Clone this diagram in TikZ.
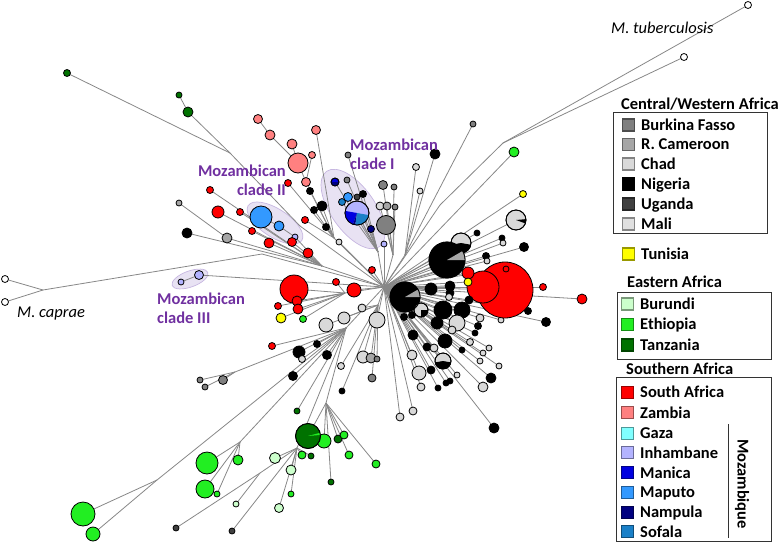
\documentclass[tikz,border=0pt]{standalone}
\usepackage{fontspec}
\setmainfont{Carlito}
\pgfdeclarelayer{hulls}
\pgfdeclarelayer{edges}
\pgfsetlayers{hulls,edges,main}
\definecolor{bf}{HTML}{808080}
\definecolor{cam}{HTML}{A6A6A6}
\definecolor{chad}{HTML}{D9D9D9}
\definecolor{nig}{HTML}{000000}
\definecolor{uga}{HTML}{404040}
\definecolor{mali}{HTML}{E0E0E0}
\definecolor{tun}{HTML}{FFFF00}
\definecolor{bur}{HTML}{CCFFCC}
\definecolor{eth}{HTML}{22EE22}
\definecolor{tan}{HTML}{007200}
\definecolor{saf}{HTML}{FF0000}
\definecolor{zam}{HTML}{FF8080}
\definecolor{gaza}{HTML}{80FFFF}
\definecolor{inh}{HTML}{B3B3FF}
\definecolor{man}{HTML}{0000E0}
\definecolor{map}{HTML}{3399FF}
\definecolor{nam}{HTML}{000080}
\definecolor{sof}{HTML}{1A80C8}
\definecolor{clade}{HTML}{7030A0}
\definecolor{hull}{HTML}{E8E2F3}
\definecolor{hullline}{HTML}{C6B6E0}
\newcommand\pwedge[5]{\fill[#5] (#1.center) -- ++(#3:#2pt) arc[start angle=#3, end angle=#4, radius=#2pt] -- cycle;}
\newcommand\pring[2]{\draw[line width=0.8pt] (#1.center) circle[radius=#2pt];}
\tikzset{
 leaf/.style={circle,draw=black,line width=0.8pt,inner sep=0pt,outer sep=0pt},
 edge/.style={draw=black!47,line width=0.8pt},
 hullshape/.style={fill=hull,draw=hullline,line width=0.7pt},
 cladelab/.style={text=clade,font=\bfseries\fontsize{16.5}{19}\selectfont,inner sep=0pt},
 species/.style={font=\itshape\fontsize{16.5}{19}\selectfont,inner sep=0pt,anchor=base west},
 legtext/.style={font=\bfseries\fontsize{16.5}{19}\selectfont,inner sep=0pt,anchor=base west},
 swatch/.style={rectangle,minimum size=12pt,inner sep=0pt,line width=1.3pt},
 legbox/.style={draw=black!80,line width=1pt},
}
\def\nodelist{%
tb1/748/5/3.5/white/hM,
tb2/684/57/3.5/white/hM,
cp1/5/279/3.5/white/hCap,
cp2/5/302/3.5/white/hCap,
m3a/199/275/4.5/inh/R,
m3b/181/282/3/inh/m3a,
t1/67/73/3.5/tan/hT,
t2/188/112/5/tan/hT,
t3/179/95/3/tan/t2,
z1/258/119/4.5/zam/z2,
z2/270/135/5/zam/z4,
z3/292/144/5/zam/z4,
z4/298/163/10/zam/z6,
z5/312/155/3.5/zam/z6,
z6/306/182/4.5/zam/hZ,
z7/316/130/4.5/zam/hZ,
c2a/261/217/11/map/c2b,
c2b/279/226/5/map/c2c,
c2c/295/237/3/inh/hC2,
r1/292/242/4.5/saf/hC2,
r2/252/231/3.5/saf/hC2,
r3/269/243/5/saf/hC2,
r4/308/253/5/saf/hC2,
r5/218/212/6/saf/hC2,
r6/240/212/3.5/saf/hC2,
r7/210/190/3.5/saf/hC2,
g1/179/203/3/cam/g2,
g2/227/238/5/cam/hC2,
b1/187/233/5/nig/hC2,
r8/288/183/3.5/saf/hZ,
b2/310/191/3.5/nig/hZ,
b3/314/210/3.5/nig/hZ,
b4/322/206/5/nig/hZ,
b5/326/227/3.5/nig/hZ,
r9/305/220/3.5/saf/hZ,
c1/339/242/3/chad/R,
r10/372/270/3.5/saf/R,
i2/347/180/3/bf/hI,
i3/348/197/4.5/map/hI,
i4/342/202/3.5/sof/hI,
i5/357/197/3/uga/hI,
i6/363/194/3.5/nig/hI,
i7/371/229/3.5/nam/hI,
i8/384/244/3/inh/R,
i9/348/155/3/bf/hI,
k1/383/185/4.5/bf/hG,
k2/394/187/3/bf/hG,
k3/380/206/4/chad/hG,
k4/387/206/4/cam/hG,
k5/395/207/3/bf/hG,
k6/386/225/9.5/bf/hG,
u1/416/167/3.5/chad/hN,
u2/420/191/3/chad/hN,
u3/435/154/5/nig/hN,
u4/473/124/3/bf/hN,
u5/514/152/5/eth/R,
u6/523/194/3.5/tun/R,
q9/477/233/3/nig/R,
q10/502/238/3/nig/R,
q11/503/243/3/chad/R,
q12/524/247/4.5/nig/R,
q15/486/256/3.5/nig/R,
q16/487/261/3/chad/R,
q22/543/287/3.5/saf/R,
q23/582/299/5/saf/R,
q24/528/311/3.5/nig/R,
q25/546/322/4.5/nig/R,
q26/501/320/3/chad/R,
q19/505/290/28/saf/R,
q20/483/287/16/saf/R,
q17/468/273/6/saf/R,
q18/468/282/4/tun/R,
q21/506/269/3/saf/R,
q28/431/289/6/nig/R,
q29/450/286/5/nig/R,
q30/450/293/4/nig/R,
q31/449/297/3.5/chad/R,
q32/469/300/4/nig/R,
q34/443/310/9/nig/R,
q35/462/310/8/nig/R,
q36/404/317/3.5/nig/R,
q37/412/315/3.5/nig/R,
q38/437/323/6/nig/R,
q39/457/323/8/chad/R,
q40/480/318/4/chad/R,
q41/478/326/3.5/nig/R,
q42/377/320/8/chad/R,
q43/452/330/4/chad/R,
q44/475/333/3/nig/R,
q45/413/335/5/nig/R,
q46/445/341/7/nig/R,
q47/470/342/3.5/chad/R,
q48/489/348/3/chad/R,
q49/427/347/4/nig/R,
q50/434/348/4/chad/R,
q51/462/350/3/nig/R,
q52/483/353/3/chad/R,
q53/480/361/3/chad/R,
q54/499/366/3/chad/R,
q55/412/355/5/chad/R,
q57/457/375/3/chad/R,
q58/419/373/7/chad/R,
q59/431/370/4/nig/R,
q60/491/378/5/nig/R,
q61/483/387/5/chad/R,
q62/421/387/4/chad/R,
q63/438/388/3/nig/R,
q64/446/383/3/nig/R,
q65/450/381/3/nig/R,
q69/413/411/4/chad/R,
q70/400/417/4/chad/R,
q71/494/428/5/nig/R,
l1/294/289/14/saf/hL,
l2/297/301/5/saf/hL,
l3/298/309/5/saf/hL,
l4/278/306/3.5/saf/hL,
l5/281/318/5/tun/hL,
l6/303/319/3.5/eth/hL,
l7/336/282/3.5/saf/hL,
l8/354/290/7/saf/R,
l9/326/325/7/chad/hD,
l10/344/318/6/chad/hD,
l11/362/308/4/chad/hD,
d1/272/346/3.5/saf/hB,
d2/299/352/6/nig/hB,
d3/302/359/3.5/chad/hB,
d4/317/344/3.5/nig/hB,
d5/327/355/4.5/nig/hB,
d6/293/376/4.5/nig/hB,
g3/200/380/3/bf/hGg,
g4/205/387/3/bf/hGg,
g5/223/380/4.5/bf/hGg,
d7/363/357/6/chad/hD,
d8/371/358/5/cam/hD,
d9/377/359/3/bf/hD,
d10/341/366/3.5/chad/hD,
d11/372/378/4/bf/hD,
d12/342/391/3/nig/hD,
e1/297/411/3/tan/hB,
e3/324/441/7/eth/hTz,
e4/338/439/4/tan/hTz,
e5/344/435/4/eth/hTz,
e6/349/455/4/eth/hTz,
e7/376/464/4/eth/hTz,
e8/331/482/3/tan/hTz,
e9/302/455/4/eth/hK,
e10/311/456/3/tan/hK,
e11/275/458/5.5/bur/hK,
e12/291/470/5/bur/hK,
e13/291/494/3/eth/hK,
e14/279/508/4.5/bur/hK,
e15/236/504/3/bur/hK2,
e16/232/531/3/uga/hK,
e17/176/528/3/uga/hK2,
e18/207/463/11/eth/hE,
e19/238/460/5/eth/hE,
e20/205/489/9/eth/hE,
e21/217/494/3/eth/hE,
e22/83/514/12/eth/hF,
e23/93/534/7/eth/hF}
\def\pielist{%
p1/357/213/12/inh/hI,
i1/335/182/4/man/hI,
q8/516/220/10/chad/R,
q13/461/243/10/chad/R,
q14/447/260/18/nig/R,
q27/405/297/15/nig/R,
q33/421/310/7/chad/R,
q56/443/361/8/chad/R,
e2/308/436/12.5/tan/hTz}
\begin{document}
\begin{tikzpicture}[x=1pt,y=-1pt]
\useasboundingbox (0,0) rectangle (779,544);
% hubs
\coordinate (R) at (384,287);
\coordinate (hM) at (503,143);
\coordinate (hM2) at (440,205);
\coordinate (hCap) at (43,290);
\coordinate (hC3) at (262,254);
\coordinate (hT) at (230,153);
\coordinate (hT2) at (300,226);
\coordinate (hZ) at (334,238);
\coordinate (hC2) at (322,266);
\coordinate (hI) at (378,252);
\coordinate (hG) at (393,255);
\coordinate (hN) at (405,255);
\coordinate (hL) at (345,293);
\coordinate (hD) at (378,305);
\coordinate (hB) at (346,328);
\coordinate (hGg) at (235,372);
\coordinate (hE) at (240,442);
\coordinate (hF) at (157,480);
\coordinate (hK) at (297,448);
\coordinate (hK2) at (260,473);
\coordinate (hTz) at (326,403);
% hulls
\begin{pgfonlayer}{hulls}
\draw[hullshape,shift={(353,209)},rotate=-55] (0,0) ellipse[x radius=46pt,y radius=22pt];
\draw[hullshape,shift={(275,223)},rotate=-33] (0,0) ellipse[x radius=32pt,y radius=14pt];
\draw[hullshape,shift={(190,279)},rotate=20] (0,0) ellipse[x radius=19pt,y radius=8pt];
\end{pgfonlayer}
% leaves
\foreach \nm/\xx/\yy/\rr/\cc/\pp in \nodelist {
  \node[leaf,fill=\cc,minimum size={2*\rr*1pt}] (\nm) at (\xx,\yy) {};
}
% pie nodes
\foreach \nm/\xx/\yy/\rr/\cc/\pp in \pielist {
  \node[leaf,fill=\cc,minimum size={2*\rr*1pt}] (\nm) at (\xx,\yy) {};
}
\pwedge{p1}{12}{170}{250}{man}
\pwedge{p1}{12}{250}{262}{nam}
\pwedge{p1}{12}{262}{350}{sof}
\pring{p1}{12}
\pwedge{i1}{4}{180}{360}{nam}
\pring{i1}{4}
\pwedge{q8}{10}{-20}{5}{nig}
\pring{q8}{10}
\pwedge{q13}{10}{190}{350}{nig}
\pring{q13}{10}
\pwedge{q14}{18}{0}{30}{cam}
\pring{q14}{18}
\pwedge{q27}{15}{0}{30}{cam}
\pring{q27}{15}
\pwedge{q33}{7}{270}{360}{nig}
\pring{q33}{7}
\pwedge{q56}{8}{190}{350}{nig}
\pring{q56}{8}
\pwedge{e2}{12.5}{5}{15}{eth}
\pring{e2}{12.5}
% edges
\begin{pgfonlayer}{edges}
\foreach \aa/\bb in {hM/hM2,hM2/R,hCap/hC3,hC3/R,hT/hT2,hT2/R,hZ/R,hC2/R,hI/R,hG/R,hN/R,hL/R,hD/R,hB/R,hGg/hB,hE/hB,hF/hB,hK/hB,hK2/hK,hTz/hB}
  {\draw[edge] (\aa) -- (\bb);}
\foreach \nm/\xx/\yy/\rr/\cc/\pp in \nodelist {\draw[edge] (\pp) -- (\nm);}
\foreach \nm/\xx/\yy/\rr/\cc/\pp in \pielist {\draw[edge] (\pp) -- (\nm);}
\end{pgfonlayer}
% labels
\node[cladelab,anchor=base west] (lab1a) at (350,150) {Mozambican};
\node[cladelab,anchor=base west] (lab1b) at (350,169) {clade I};
\node[cladelab,anchor=base east] (lab2a) at (286,176) {Mozambican};
\node[cladelab,anchor=base east] (lab2b) at (286,195) {clade II};
\node[cladelab,anchor=base west] (lab3a) at (157,304) {Mozambican};
\node[cladelab,anchor=base west] (lab3b) at (157,323) {clade III};
\node[species] (tblab) at (611,33) {M. tuberculosis};
\node[species] (cplab) at (17,317) {M. caprae};
% legend
\node[legtext] (lt1) at (621,109) {Central/Western Africa};
\draw[legbox] (613,112) rectangle (767,233);
\foreach \nm/\yy/\cc/\lab in {lbf/125/bf/Burkina Fasso,lcam/144.5/cam/R. Cameroon,lchad/164/chad/Chad,lnig/184/nig/Nigeria,luga/204/uga/Uganda,lmali/224/mali/Mali,ltun/254/tun/Tunisia}{
  \node[swatch,fill=\cc,draw=\cc!60!black] (\nm) at (628.5,\yy) {};
  \node[legtext] (\nm-t) at (641,\yy+5.3) {\lab};
}
\node[legtext] (lt2) at (627,287) {Eastern Africa};
\draw[legbox] (617,292) rectangle (771,359);
\foreach \nm/\yy/\cc/\lab in {lbur/304/bur/Burundi,leth/324.3/eth/Ethiopia,ltan/345/tan/Tanzania}{
  \node[swatch,fill=\cc,draw=\cc!60!black] (\nm) at (627.5,\yy) {};
  \node[legtext] (\nm-t) at (640,\yy+5.3) {\lab};
}
\node[legtext] (lt3) at (626,374) {Southern Africa};
\draw[legbox] (616,377) rectangle (771,541);
\foreach \nm/\yy/\cc/\lab in {lsaf/392.3/saf/South Africa,lzam/412.7/zam/Zambia,lgaza/433.3/gaza/Gaza,linh/452.7/inh/Inhambane,lman/472.7/man/Manica,lmap/492.3/map/Maputo,lnam/512.3/nam/Nampula,lsof/531.7/sof/Sofala}{
  \node[swatch,fill=\cc,draw=\cc!60!black] (\nm) at (627.5,\yy) {};
  \node[legtext] (\nm-t) at (640,\yy+5.3) {\lab};
}
\coordinate (mzt) at (728,424);
\coordinate (mzb) at (728,538);
\draw[line width=1pt,black!80] (mzt) -- (mzb);
\node[font=\bfseries\fontsize{16.5}{19}\selectfont,inner sep=0pt,rotate=-90] (mozlab) at (742,484) {Mozambique};
\end{tikzpicture}
\end{document}
